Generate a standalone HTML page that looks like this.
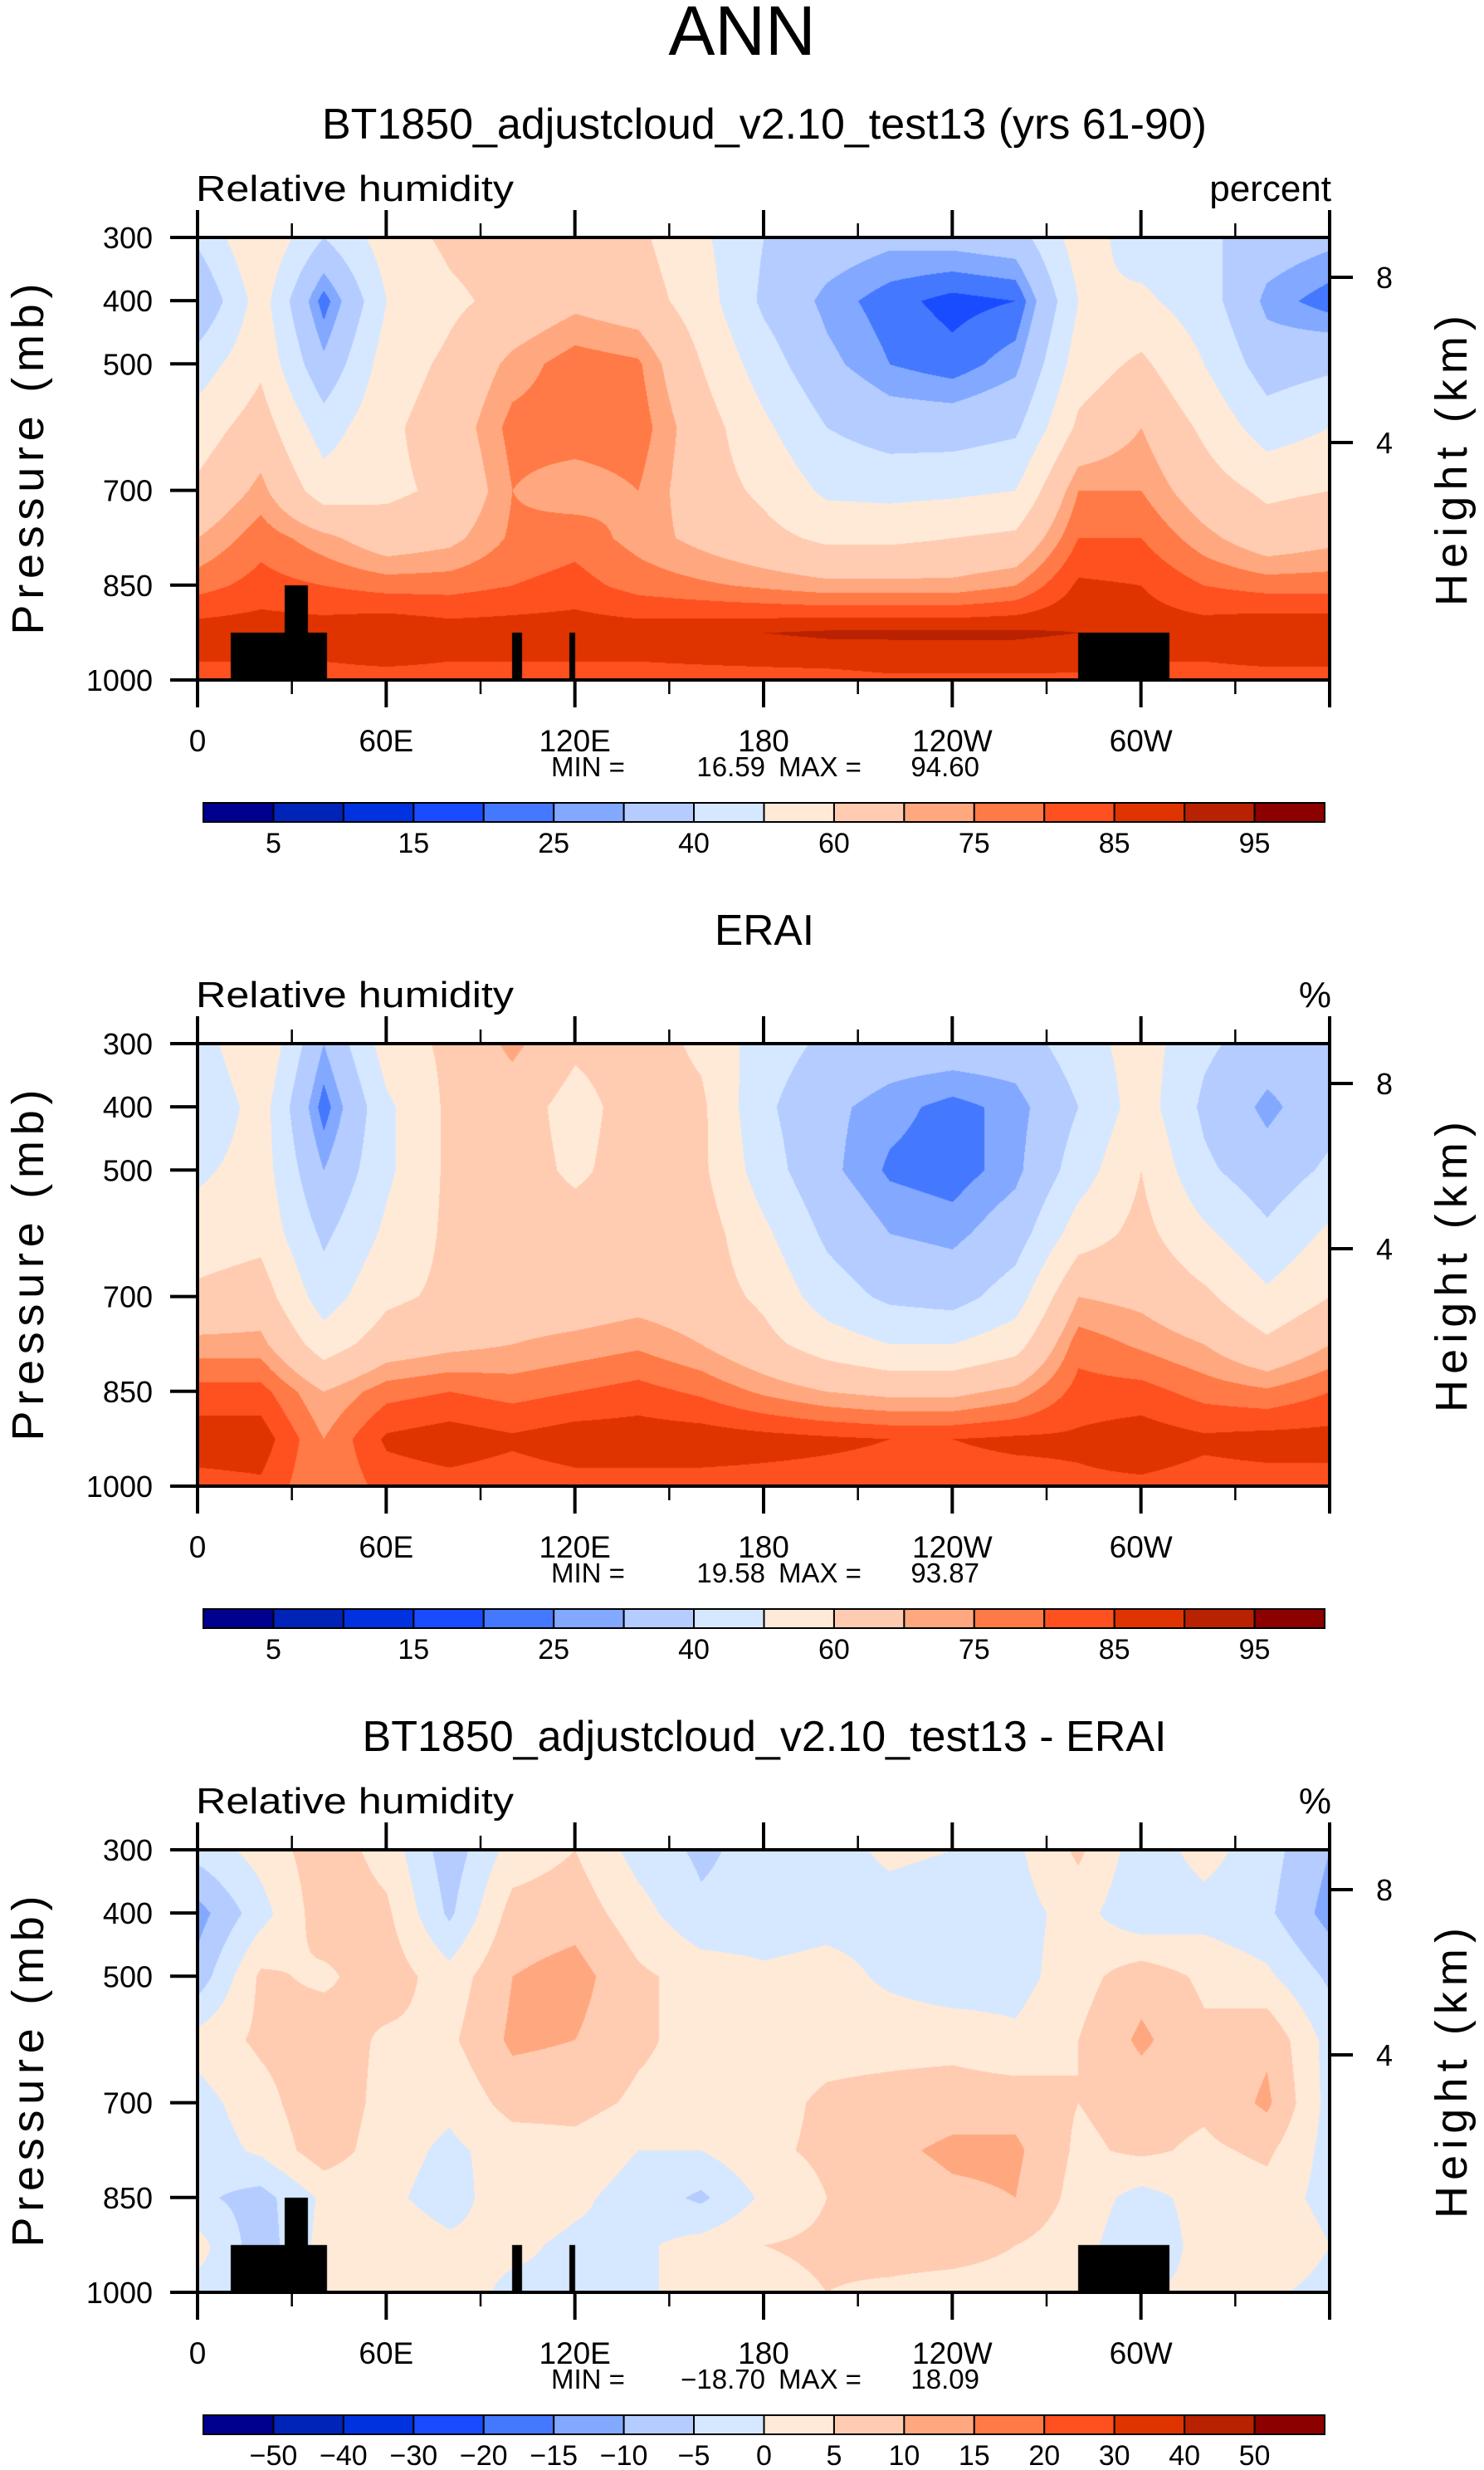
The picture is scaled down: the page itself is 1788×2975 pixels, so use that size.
<!DOCTYPE html>
<html><head><meta charset="utf-8">
<style>
html,body{margin:0;padding:0;background:#fff;}
#wrap{position:relative;width:1788px;height:2975px;overflow:hidden;background:#fff;}
canvas{position:absolute;left:238px;}
svg{position:absolute;left:0;top:0;}
text{font-family:"Liberation Sans",sans-serif;fill:#000;}
</style></head>
<body>
<div id="wrap">
<canvas id="c0" width="1364" height="533" style="top:286px"></canvas>
<canvas id="c1" width="1364" height="533" style="top:1257px"></canvas>
<canvas id="c2" width="1364" height="533" style="top:2228px"></canvas>
<svg id="ov" width="1788" height="2975">
<text x="894" y="66" font-size="84" text-anchor="middle">ANN</text>
</svg>
</div>
<script>
// ---- data ----
const lons=[0,20,40,60,80,100,120,140,160,180,200,220,240,260,280,300,320,340,360];
const plevs=[300,400,500,600,700,775,850,925,1000];
const modelRH=[
[42,30,45,55,62,70,78,88,83],[60,55,58,65,72,78,82,88,83],[40,22,32,45,55,72,80,88,83],
[55,50,55,58,58,65,78,90,83],[62,58,62,65,62,68,78,88,83],[65,63,72,77,75,76,80,88,83],
[65,68,78,78,72,78,82,88,83],[62,65,76,78,75,73,78,88,83],[52,55,60,65,65,68,76,89,83],
[40,38,45,52,58,63,74,90,83],[35,28,32,40,48,58,72,91,83],[32,22,25,35,47,58,72,91,84],
[33,18,22,35,48,60,72,91,84],[35,20,28,38,50,62,75,91,84],[55,50,55,62,75,80,86,90,84],
[45,52,62,70,75,80,85,88,83],[42,45,50,58,65,72,80,88,83],[35,28,35,45,58,65,78,90,83],
[32,22,38,50,60,68,78,90,83]];
const eraiRH=[
[45,40,48,55,62,72,82,88,83],[60,55,55,57,65,72,82,88,84],[30,22,30,38,45,55,70,75,75],
[55,48,48,52,58,65,78,86,82],[62,62,62,62,62,68,80,88,83],[72,65,65,65,65,70,78,86,82],
[62,56,58,65,65,72,80,88,83],[65,65,65,65,67,74,82,88,83],[58,62,62,65,65,70,79,88,83],
[45,42,45,52,58,63,74,87,83],[38,32,32,38,45,55,70,86,83],[35,27,24,30,38,50,68,85,83],
[35,23,22,28,36,50,68,85,83],[35,27,28,35,45,56,72,86,83],[45,40,45,55,70,78,82,86,84],
[55,55,60,63,68,74,82,88,84],[42,38,42,52,62,70,78,86,83],[35,28,34,42,52,62,76,87,83],
[35,36,42,52,60,70,80,87,83]];
const diffRH=[
[-3,-12,-8,2,-2,-3,-4,2,-2],[2,-2,6,6,3,1,-7,-8,0],[8,8,4,8,9,8,1,2,2],
[3,6,8,4,3,2,1,3,2],[-8,-6,2,4,1,-1,-2,1,2],[2,7,10,11,7,2,3,1,-1],
[5,8,12,10,7,3,1,-1,-1],[-2,2,6,6,4,0,-2,-1,-1],[-6,-4,3,3,3,0,-6,2,2],
[-3,-3,1,2,3,4,1,5,3],[-2,-2,2,3,6,6,5,6,5],[1,-2,-1,3,7,9,7,7,4],
[0,-3,-3,3,8,11,9,7,3],[-1,-2,-2,1,8,11,10,5,3],[6,2,3,5,5,4,3,2,1],
[-3,-4,8,11,7,6,-2,-4,0],[2,-2,4,6,6,4,2,2,1],[-3,-4,1,9,11,6,3,5,1],
[-10,-12,-6,-2,-2,-2,-2,0,-2]];
const rhLevels=[5,10,15,20,25,30,40,50,60,70,75,80,85,90,95];
const rhLabels=["5","15","25","40","60","75","85","95"];
const diffLevels=[-50,-40,-30,-20,-15,-10,-5,0,5,10,15,20,30,40,50];
const diffLabels=["\u221250","\u221240","\u221230","\u221220","\u221215","\u221210","\u22125","0","5","10","15","20","30","40","50"];
const palette=["#00008f","#0024b8","#0032e0","#1a4cff","#4478ff","#82a8ff","#b4ccff","#d6e8ff","#ffead8","#ffccb2","#ffa880","#ff7a46","#ff5020","#e03400","#b82200","#8c0000"];
const landMask=[[10.5,41,925],[27.5,35,850],[100,103,925],[118,120,925],[280,309,925]];
const lonTicks=["0","60E","120E","180","120W","60W"];
const presTicks=[300,400,500,700,850,1000];
const minVals=["16.59","19.58","\u221218.70"];
const maxVals=["94.60","93.87","18.09"];

// ---- layout ----
const X0=238,PW=1364,PH=533,TOPS=[286,1257,2228];
const xs=l=>X0+l/360*PW;
const ys=(p,t)=>t+(p-300)/700*PH;
const NS='http://www.w3.org/2000/svg';
const ov=document.getElementById('ov');
function mk(tag,attrs,txt){const e=document.createElementNS(NS,tag);for(const k in attrs)e.setAttribute(k,attrs[k]);if(txt!==undefined)e.textContent=txt;ov.appendChild(e);return e;}

function hexRgb(h){return [parseInt(h.substr(1,2),16),parseInt(h.substr(3,2),16),parseInt(h.substr(5,2),16)];}
const palRgb=palette.map(hexRgb);
function interp(g,lon,p){
  let i=Math.min(Math.floor(lon/20),lons.length-2);const fx=(lon-lons[i])/20;
  let j=0;while(j<plevs.length-2&&p>plevs[j+1])j++;const fy=(p-plevs[j])/(plevs[j+1]-plevs[j]);
  const a=g[i][j]*(1-fx)+g[i+1][j]*fx,b=g[i][j+1]*(1-fx)+g[i+1][j+1]*fx;
  return a*(1-fy)+b*fy;
}
function drawField(id,g,levels,mask){
  const cv=document.getElementById(id),ctx=cv.getContext('2d');
  const img=ctx.createImageData(PW,PH),d=img.data;
  for(let y=0;y<PH;y++){const p=300+y/PH*700;
    for(let x=0;x<PW;x++){const lon=x/PW*360;
      let c;
      let land=false;
      if(mask)for(const m of landMask){if(lon>=m[0]&&lon<=m[1]&&p>=m[2]){land=true;break;}}
      if(land)c=[0,0,0];else{const v=interp(g,lon,p);let k=0;while(k<levels.length&&v>=levels[k])k++;c=palRgb[k];}
      const o=(y*PW+x)*4;d[o]=c[0];d[o+1]=c[1];d[o+2]=c[2];d[o+3]=255;}}
  ctx.putImageData(img,0,0);
}
drawField('c0',modelRH,rhLevels,true);
drawField('c1',eraiRH,rhLevels,false);
drawField('c2',diffRH,diffLevels,true);

const titles=["BT1850_adjustcloud_v2.10_test13 (yrs 61-90)","ERAI","BT1850_adjustcloud_v2.10_test13 - ERAI"];
const titleLen=[1066,120,969];
const units=["percent","%","%"];
for(let k=0;k<3;k++){
  const T=TOPS[k],off=k*971;
  let e;
  e=mk('text',{x:921,y:167+off,'font-size':52,'text-anchor':'middle',textLength:titleLen[k],lengthAdjust:'spacingAndGlyphs'},titles[k]);
  
  
  e=mk('text',{x:236,y:242+off,'font-size':44,textLength:383,lengthAdjust:'spacingAndGlyphs'},'Relative humidity');
  
  
  e=mk('text',{x:1604,y:242+off,'font-size':44,'text-anchor':'end'},units[k]);
  
  
  e=mk('rect',{x:X0,y:T,width:PW,height:PH,fill:'none',stroke:'#000','stroke-width':4});
  
  
  for(let l=0;l<=360;l+=30){
    const major=l%60===0,len=major?33:17;
    e=mk('line',{x1:xs(l),x2:xs(l),y1:T-len,y2:T,stroke:'#000','stroke-width':major?4:2.5});
    
    
    e=mk('line',{x1:xs(l),x2:xs(l),y1:T+PH,y2:T+PH+len,stroke:'#000','stroke-width':major?4:2.5});
    
    
  }
  lonTicks.forEach((s,i)=>{
    const t=mk('text',{x:xs(i*60),y:T+PH+86,'font-size':37,'text-anchor':'middle'},s);
    
    
  });
  presTicks.forEach(p=>{
    const ln=mk('line',{x1:X0-33,x2:X0,y1:ys(p,T),y2:ys(p,T),stroke:'#000','stroke-width':4});
    
    
    const t=mk('text',{x:184,y:ys(p,T)+13,'font-size':36,'text-anchor':'end'},String(p));
    
    
  });
  [[8,48],[4,247]].forEach(h=>{
    const ln=mk('line',{x1:X0+PW,x2:X0+PW+28,y1:T+h[1],y2:T+h[1],stroke:'#000','stroke-width':4});
    
    
    const t=mk('text',{x:1668,y:T+h[1]+13,'font-size':36,'text-anchor':'middle'},String(h[0]));
    
    
  });
  e=mk('text',{x:0,y:0,'font-size':54,'text-anchor':'middle',textLength:423,lengthAdjust:'spacing',transform:`translate(52,${T+267}) rotate(-90)`},'Pressure (mb)');
  
  
  e=mk('text',{x:0,y:0,'font-size':54,'text-anchor':'middle',textLength:350,lengthAdjust:'spacing',transform:`translate(1767,${T+269}) rotate(-90)`},'Height (km)');
  
  
  const mmY=T+PH+116;
  e=mk('text',{x:664,y:mmY,'font-size':33},'MIN =');
  
  
  e=mk('text',{x:922,y:mmY,'font-size':33,'text-anchor':'end'},minVals[k]);
  
  
  e=mk('text',{x:938,y:mmY,'font-size':33},'MAX =');
  
  
  e=mk('text',{x:1180,y:mmY,'font-size':33,'text-anchor':'end'},maxVals[k]);
  
  
  const cbT=967+off,cbX=245,cbW=1351,bw=cbW/16;
  for(let i=0;i<16;i++){
    const r=mk('rect',{x:cbX+i*bw,y:cbT,width:bw,height:23,fill:palette[i],stroke:'#000','stroke-width':2});
    
    
  }
  if(k<2){
    rhLabels.forEach((s,i)=>{
      const t=mk('text',{x:cbX+bw*(2*i+1),y:cbT+60,'font-size':34,'text-anchor':'middle'},s);
      
      
    });
  } else {
    diffLabels.forEach((s,i)=>{
      const t=mk('text',{x:cbX+bw*(i+1),y:cbT+60,'font-size':34,'text-anchor':'middle'},s);
      
      
    });
  }
}
</script>
</body></html>
